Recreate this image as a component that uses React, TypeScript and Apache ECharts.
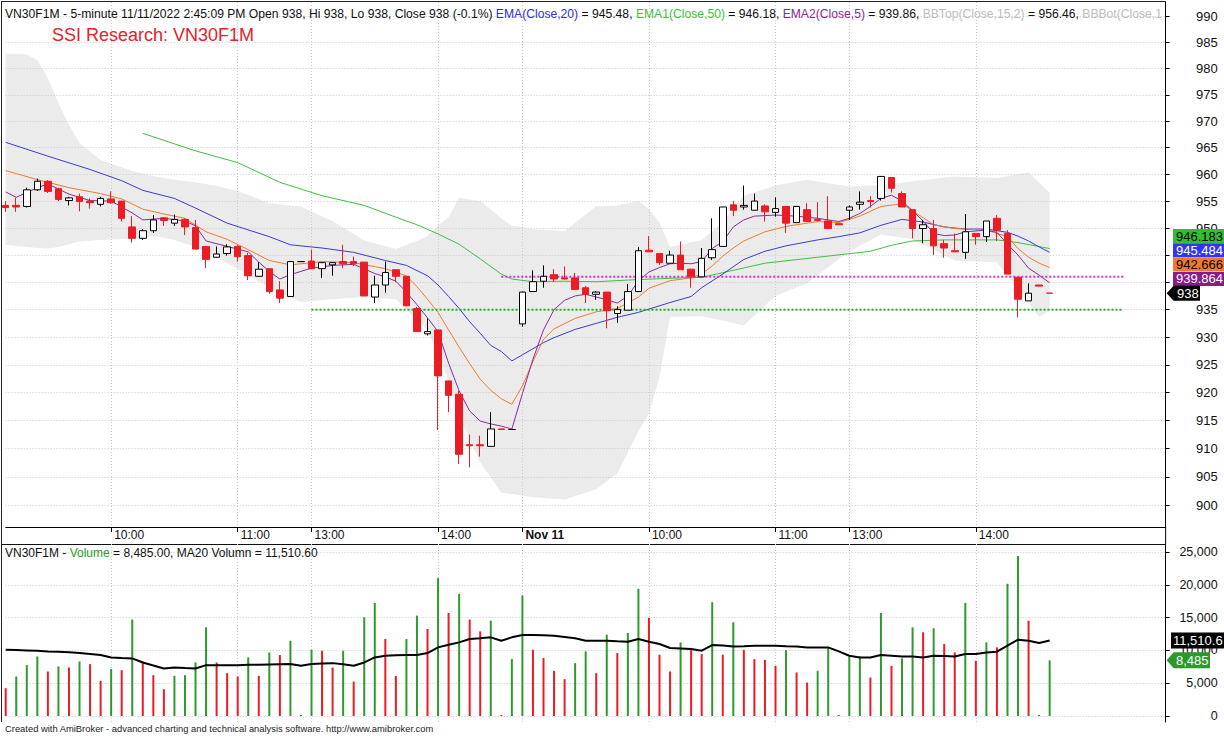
import React, { useEffect, useRef } from "react";
import * as echarts from "echarts";

const FONT = "'Liberation Sans', Arial, Helvetica, sans-serif";

// ---------- time axis ----------
const day1Sessions: [string, number, number, number, number][] = [
  ["11/10", 9, 10, 11, 30],
  ["11/10", 13, 0, 14, 30],
  ["11/10", 14, 45, 14, 45],
];
const day2Sessions: [string, number, number, number, number][] = [
  ["11/11", 9, 0, 11, 30],
  ["11/11", 13, 0, 14, 30],
  ["11/11", 14, 45, 14, 45],
];
const blankSlots = 11;
const tickIdx = [10, 22, 29, 41, 49, 61, 73, 80, 92];
const tickLabels = ["10:00", "11:00", "13:00", "14:00", "Nov 11", "10:00", "11:00", "13:00", "14:00"];

// ---------- OHLC ----------
const opens = [
  954.2, 954.2, 954.0, 957.1, 958.7, 957.3, 955.1, 955.8, 955.0, 954.4,
  955.4, 955.0, 950.2, 948.1, 949.5, 951.9, 950.9, 951.6, 950.1, 946.6,
  944.6, 945.3, 946.6, 944.9, 941.1, 942.5, 938.6, 937.4, 943.8, 943.9,
  942.5, 943.2, 943.8, 943.8, 943.7, 937.3, 939.5, 942.3, 941.1, 935.2,
  930.6, 931.3, 922.1, 919.7, 910.7, 910.7, 910.4, 913.5, 913.4, 932.4,
  938.3, 940.2, 941.4, 940.8, 940.8, 939.0, 937.8, 938.2, 934.3, 934.9,
  938.3, 945.9, 945.3, 943.5, 945.0, 942.4, 941.0, 944.5, 946.6, 954.3,
  953.9, 953.3, 954.1, 952.9, 954.0, 951.0, 953.4, 951.6, 951.3, 950.8,
  953.3, 954.4, 955.1, 955.5, 959.4, 956.4, 953.4, 949.9, 949.9, 947.1,
  945.8, 945.5, 949.0, 948.4, 951.8, 949.0, 940.9, 936.6, 939.5, 938.0,
];
const closes = [
  953.8, 953.9, 957.1, 958.7, 956.8, 955.3, 955.6, 954.9, 954.7, 955.5,
  954.7, 951.8, 948.1, 949.5, 951.5, 951.4, 951.6, 950.2, 946.1, 944.2,
  945.2, 946.5, 944.7, 941.2, 942.4, 938.3, 937.1, 943.8, 943.8, 942.5,
  943.6, 943.6, 943.4, 943.4, 937.5, 939.5, 941.8, 941.1, 935.7, 931.0,
  931.0, 923.0, 919.5, 909.0, 910.5, 910.5, 913.5, 913.4, 913.4, 938.2,
  940.1, 941.1, 940.6, 940.6, 938.7, 937.8, 938.2, 934.8, 935.0, 938.3,
  945.8, 945.6, 943.6, 945.0, 942.3, 941.0, 944.4, 946.0, 953.9, 953.3,
  954.2, 955.0, 953.0, 953.6, 950.9, 954.0, 951.2, 951.4, 949.9, 950.6,
  953.9, 954.8, 954.9, 959.6, 957.4, 953.9, 949.9, 950.6, 946.7, 946.3,
  945.6, 949.3, 948.4, 951.3, 949.6, 941.5, 936.9, 938.0, 939.3, 938.0,
];
const lows = [
  953.0, 953.0, 953.8, 956.9, 956.5, 955.0, 954.2, 953.1, 953.6, 954.0,
  954.5, 951.2, 947.3, 947.8, 949.1, 950.4, 950.4, 948.7, 946.1, 942.6,
  944.5, 944.9, 943.8, 940.4, 941.0, 937.9, 936.2, 937.4, 943.8, 942.5,
  940.8, 941.2, 942.6, 943.0, 937.5, 936.2, 938.1, 940.0, 935.7, 931.0,
  930.3, 913.3, 916.5, 907.3, 906.7, 908.6, 910.4, 913.4, 913.4, 931.9,
  938.3, 939.0, 940.1, 940.5, 938.7, 936.2, 936.8, 931.6, 932.6, 934.9,
  938.3, 945.6, 943.2, 943.5, 942.3, 939.0, 941.0, 944.1, 946.6, 952.2,
  953.4, 953.3, 951.2, 952.1, 949.1, 951.0, 951.2, 951.2, 949.9, 950.6,
  951.5, 953.4, 953.8, 955.1, 956.6, 953.9, 948.1, 947.2, 945.0, 944.5,
  945.6, 944.3, 946.9, 947.4, 947.6, 941.5, 933.6, 936.6, 939.3, 938.0,
];
const highs = [
  955.0, 955.6, 957.5, 959.2, 958.9, 957.5, 955.8, 956.4, 955.5, 955.8,
  956.8, 955.0, 952.2, 949.8, 952.4, 952.0, 952.5, 951.8, 951.5, 946.6,
  946.6, 947.0, 946.8, 945.4, 943.7, 942.5, 940.2, 943.9, 943.8, 946.0,
  943.7, 943.7, 946.9, 944.7, 943.7, 941.2, 943.8, 942.3, 941.1, 935.5,
  933.4, 931.3, 922.1, 920.3, 912.5, 912.3, 916.5, 913.5, 913.4, 938.3,
  942.2, 943.1, 942.4, 942.9, 941.7, 939.3, 938.4, 938.2, 935.6, 939.7,
  946.5, 948.5, 945.3, 945.8, 947.5, 942.5, 946.3, 951.8, 953.9, 955.0,
  957.9, 956.4, 954.4, 955.7, 954.0, 954.0, 954.6, 954.8, 955.9, 950.8,
  954.2, 956.8, 955.9, 959.7, 959.4, 956.8, 953.4, 951.5, 951.5, 947.8,
  949.0, 952.6, 949.0, 951.3, 952.4, 949.6, 940.9, 939.8, 939.5, 938.0,
];

const ema20Idx = [0, 4, 8, 11, 13, 16, 18, 21, 25, 27, 30, 33, 36, 38, 40, 41, 42, 43, 44, 45, 46, 47, 48, 49, 50, 51, 52, 54, 56, 58, 60, 63, 65, 66, 68, 70, 72, 74, 77, 79, 81, 83, 85, 87, 89, 91, 93, 95, 96, 97, 98, 99];
const ema20Val = [966.0, 963.4, 960.9, 958.8, 957.0, 955.5, 953.7, 950.9, 948.4, 946.9, 946.3, 945.5, 944.0, 943.1, 941.2, 939.5, 937.4, 935.2, 932.8, 930.7, 928.5, 927.4, 925.7, 926.8, 927.9, 929.0, 929.9, 931.4, 932.5, 933.6, 934.5, 936.3, 937.4, 939.0, 941.5, 944.2, 945.7, 946.7, 947.8, 948.4, 949.1, 950.5, 951.6, 951.1, 950.2, 949.8, 949.8, 949.2, 948.5, 947.6, 946.5, 945.5];

const ema50Idx = [13, 18, 22, 26, 30, 34, 37, 39, 41, 43, 45, 47, 48, 50, 53, 56, 60, 64, 66, 69, 72, 77, 82, 84, 86, 89, 94, 96, 99];
const ema50Val = [967.7, 964.4, 962.2, 958.5, 956.0, 954.2, 952.0, 950.6, 948.9, 947.0, 944.3, 941.5, 940.6, 940.1, 940.2, 940.1, 940.5, 940.8, 940.9, 942.2, 943.5, 944.6, 945.7, 946.8, 947.6, 947.8, 947.8, 947.3, 946.2];

const ema10Idx = [0, 3, 6, 9, 11, 13, 15, 17, 19, 21, 23, 25, 27, 30, 33, 36, 38, 39, 40, 41, 42, 43, 44, 45, 46, 47, 48, 49, 50, 51, 52, 54, 56, 58, 60, 61, 63, 65, 66, 67, 68, 69, 70, 72, 74, 77, 79, 81, 83, 85, 86, 88, 90, 93, 95, 96, 97, 98, 99];
const ema10Val = [960.7, 959.0, 957.5, 956.4, 955.4, 953.5, 952.6, 951.8, 949.3, 947.9, 946.0, 944.0, 943.2, 943.8, 943.6, 942.5, 941.2, 939.2, 936.9, 934.5, 931.3, 928.2, 925.2, 922.4, 920.4, 918.9, 917.9, 921.2, 925.6, 929.6, 931.5, 933.4, 934.6, 935.2, 937.3, 938.9, 940.3, 940.8, 941.5, 943.0, 944.8, 946.3, 947.6, 949.3, 950.3, 951.2, 951.0, 952.2, 954.0, 954.5, 953.2, 950.6, 949.9, 949.6, 948.4, 946.2, 944.6, 943.5, 942.7];

const ema5Idx = [0, 1, 3, 4, 6, 8, 10, 12, 13, 15, 17, 18, 19, 21, 23, 24, 25, 26, 27, 29, 31, 33, 35, 36, 37, 38, 39, 40, 41, 42, 43, 44, 45, 46, 47, 48, 49, 50, 51, 52, 53, 54, 55, 56, 57, 58, 59, 60, 61, 62, 63, 64, 65, 66, 67, 68, 69, 70, 71, 73, 75, 77, 79, 80, 81, 82, 83, 84, 85, 86, 87, 88, 89, 90, 91, 93, 94, 95, 96, 97, 98, 99];
const ema5Val = [956.7, 955.7, 957.5, 958.2, 956.3, 955.1, 955.0, 952.8, 951.5, 951.8, 951.3, 950.4, 947.6, 946.6, 945.6, 943.7, 942.0, 940.6, 941.4, 942.6, 943.1, 943.3, 941.6, 941.0, 940.2, 938.2, 935.9, 933.5, 931.0, 925.3, 920.3, 916.7, 914.9, 914.4, 914.0, 913.5, 919.8, 926.0, 931.3, 935.0, 936.7, 937.5, 937.8, 937.3, 936.8, 936.2, 937.5, 940.2, 941.9, 942.7, 943.4, 943.5, 943.4, 943.8, 946.2, 947.5, 950.2, 951.5, 952.2, 952.4, 952.2, 951.8, 951.2, 951.8, 952.7, 954.0, 955.5, 956.1, 955.0, 953.2, 951.3, 949.0, 948.6, 948.7, 949.3, 949.6, 949.2, 947.0, 945.0, 942.6, 941.3, 939.9];

const bandIdx = [0, 2, 3, 4, 5, 6, 7, 9, 12, 14, 16, 18, 20, 22, 25, 28, 31, 34, 37, 39, 40, 41, 42, 43, 44, 45, 46, 47, 48, 50, 53, 56, 58, 60, 61, 62, 63, 66, 68, 70, 73, 76, 80, 83, 86, 90, 94, 97, 98, 99];
const bandUpper = [982.9, 982.7, 981.6, 978.2, 973.4, 969.3, 965.9, 962.7, 960.6, 959.7, 959.0, 958.5, 957.8, 956.9, 954.6, 954.0, 951.3, 947.7, 946.1, 947.6, 948.5, 950.5, 952.0, 955.6, 955.3, 955.0, 953.5, 951.8, 950.4, 949.8, 949.4, 954.1, 954.2, 955.0, 953.5, 951.0, 946.5, 947.8, 951.0, 956.0, 957.9, 959.0, 957.7, 958.0, 958.7, 959.6, 959.3, 960.4, 958.4, 956.5];
const bandLower = [946.9, 946.5, 946.3, 946.2, 946.5, 947.0, 947.5, 947.8, 948.0, 948.5, 947.8, 946.5, 944.5, 942.5, 939.0, 936.4, 936.9, 937.3, 936.9, 933.2, 931.3, 926.6, 922.2, 915.9, 911.7, 907.6, 904.9, 902.2, 902.0, 901.4, 901.0, 902.8, 905.6, 913.1, 916.2, 922.8, 933.7, 933.8, 933.0, 932.1, 937.5, 939.8, 945.7, 948.8, 947.9, 944.0, 943.7, 936.3, 933.6, 934.9];

const supportLevel = 935;
const supportRange = [29, 106];
const resistLevel = 941;
const resistRange = [47, 106];

// ---------- volume ----------
const volumes = [
  4235, 6020, 7755, 9080, 6785, 7550, 7400, 8315, 7910, 5360,
  7140, 6990, 14700, 8315, 6225, 4080, 6120, 6225, 8160, 13520,
  8160, 6530, 6020, 8930, 6120, 9690, 9290, 11480, 150, 10100,
  9950, 7400, 9950, 5255, 15050, 17245, 11735, 6120, 11735, 15300,
  13265, 21020, 15710, 18620, 14700, 12910, 14540, 150, 8670, 18370,
  10100, 8830, 6890, 5610, 8060, 9850, 6530, 12400, 9590, 12650,
  19390, 14950, 9340, 6790, 11220, 10200, 9440, 17350, 9340, 14290,
  10100, 8670, 8570, 7650, 10050, 6630, 5100, 6890, 10460, 150,
  9080, 9080, 5870, 15710, 7650, 8780, 13520, 12760, 13370, 10970,
  9690, 17245, 8420, 11220, 10460, 20150, 24390, 14540, 150, 8485,
];
const volDir = (
  "rgggrgrgrr" + "grgrrrgggg" + "rrrgrgrgrg" + "rrgrggrrgg" + "rgrgrrgrgg" +
  "rrrrggrgrg" + "grrrgrrgrg" + "rrrrgrrggr" + "ggrgrggrgr" + "rgrgrggrrg"
).split("");
const volMA20 = [
  10100, 10050, 10000, 9950, 9850, 9800, 9700, 9590, 9450, 9290,
  8930, 8850, 8780, 8160, 7700, 7245, 7400, 7300, 7245, 7755,
  7755, 7755, 7755, 7800, 7800, 7850, 7900, 7910, 7650, 7910,
  8000, 8060, 7900, 7650, 8160, 8930, 9180, 9250, 9290, 9290,
  9590, 10460, 10850, 11220, 11735, 11840, 11990, 11480, 11990, 12350,
  12350, 12300, 12245, 12050, 11840, 11480, 11480, 11480, 11400, 11330,
  11735, 11330, 10970, 10360, 10300, 10200, 9950, 10820, 10750, 10610,
  10650, 10700, 10710, 10710, 10650, 10610, 10460, 10460, 10460, 9850,
  9180, 8930, 8930, 9290, 9200, 9080, 9080, 8930, 9180, 9150,
  9080, 9440, 9440, 9690, 9800, 10710, 11630, 11480, 11120, 11510.6,
];

const priceTicks = [900, 905, 910, 915, 920, 925, 930, 935, 940, 945, 950, 955, 960, 965, 970, 975, 980, 985, 990];
// 940 and 945 are hidden behind the value tags in the original
const priceLabels = [900, 905, 910, 915, 920, 925, 930, 935, 950, 955, 960, 965, 970, 975, 980, 985, 990];
const volTicks = [0, 5000, 10000, 15000, 20000, 25000];

const lastLabels = [
  { name: "EMA1", value: 946.183, bg: "#2fc02f", fg: "#000000" },
  { name: "EMA", value: 945.484, bg: "#3434f4", fg: "#ffffff" },
  { name: "EMA10", value: 942.666, bg: "#f3782a", fg: "#000000" },
  { name: "EMA2", value: 939.864, bg: "#8a1a8a", fg: "#ffffff" },
];
const lastClose = 938;
const lastVolume = 8485;
const lastVolMA = 11510.6;

// colors
const RED = "#ec1c24";
const GREEN_V = "#2e9a2e";
const GRID_C = "#c9c9c9";

function buildCategories(): string[] {
  const out: string[] = [];
  const pad = (n: number) => (n < 10 ? "0" + n : "" + n);
  for (const [d, h0, m0, h1, m1] of [...day1Sessions, ...day2Sessions]) {
    let t = h0 * 60 + m0;
    const end = h1 * 60 + m1;
    while (t <= end) {
      out.push(`${d} ${pad(Math.floor(t / 60))}:${pad(t % 60)}`);
      t += 5;
    }
  }
  for (let k = 0; k < blankSlots; k++) out.push(`blank${k}`);
  return out;
}

export default function App() {
  const ref = useRef<HTMLDivElement>(null);

  useEffect(() => {
    const el = ref.current!;
    const chart = echarts.init(el, null, { renderer: "svg" });
    const cats = buildCategories();
    const tickSet = new Set(tickIdx);
    const showTick = (i: number) => tickSet.has(i);
    const pairs = (idx: number[], val: number[]) => idx.map((x, k) => [x, val[k]]);
    const gridLeft = 5.7;
    const gridWidth = 110 * 10.545;

    const dotted = { color: GRID_C, type: [1, 2] as any, width: 1 };

    const option: any = {
      animation: false,
      backgroundColor: "#ffffff",
      textStyle: { fontFamily: FONT },
      grid: [
        { left: gridLeft, top: 2, width: gridWidth, height: 525 },
        { left: gridLeft, top: 544, width: gridWidth, height: 178 },
      ],
      xAxis: [
        {
          type: "category",
          gridIndex: 0,
          data: cats,
          boundaryGap: false,
          z: 2,
          axisLine: { show: true, lineStyle: { color: "#000", width: 1 } },
          axisTick: { show: true, interval: showTick, length: 5, lineStyle: { color: "#000" } },
          axisLabel: {
            show: true,
            interval: showTick,
            align: "left",
            margin: 2,
            padding: [0, 0, 0, 3],
            formatter: (_v: string, i: number) => {
              const k = tickIdx.indexOf(i);
              if (k < 0) return "";
              return k === 4 ? `{b|${tickLabels[k]}}` : `{n|${tickLabels[k]}}`;
            },
            rich: {
              n: { fontSize: 12, color: "#111", fontFamily: FONT },
              b: { fontSize: 12, color: "#111", fontWeight: "bold", fontFamily: FONT },
            },
          },
          splitLine: { show: true, interval: showTick, lineStyle: dotted },
        },
        {
          type: "category",
          gridIndex: 1,
          data: cats,
          boundaryGap: false,
          z: 2,
          axisLine: { show: false },
          axisTick: { show: false },
          axisLabel: { show: false },
          splitLine: { show: true, interval: showTick, lineStyle: dotted },
        },
      ],
      yAxis: [
        {
          type: "log",
          logBase: 10,
          gridIndex: 0,
          position: "right",
          min: 896.2,
          max: 992.8,
          z: 2,
          axisLine: { show: true, lineStyle: { color: "#000" } },
          axisTick: { show: true, customValues: priceTicks, length: 4, lineStyle: { color: "#000" } },
          axisLabel: {
            customValues: priceLabels,
            align: "right",
            margin: 52,
            fontSize: 13,
            color: "#111",
            fontFamily: FONT,
            formatter: (v: number) => String(Math.round(v)),
          },
          splitLine: { show: true, lineStyle: dotted },
          minorTick: { show: false },
          minorSplitLine: { show: false },
        },
        {
          type: "value",
          gridIndex: 1,
          position: "right",
          min: -915,
          max: 26220,
          z: 2,
          axisLine: { show: true, lineStyle: { color: "#000" } },
          axisTick: { show: true, customValues: volTicks, length: 4, lineStyle: { color: "#000" } },
          axisLabel: {
            customValues: volTicks,
            align: "right",
            margin: 52,
            fontSize: 12.5,
            color: "#111",
            fontFamily: FONT,
            formatter: (v: number) => v.toLocaleString("en-US"),
          },
          splitLine: { show: true, lineStyle: dotted },
        },
      ],
      series: [
        {
          type: "custom",
          name: "BB",
          xAxisIndex: 0,
          yAxisIndex: 0,
          z: 1,
          silent: true,
          clip: false,
          data: bandIdx.map((x, k) => [x, bandUpper[k], bandLower[k]]),
          encode: { x: 0, y: [1, 2] },
          renderItem: (params: any, api: any) => {
            if (params.dataIndex !== 0) return null;
            const pts: number[][] = [];
            for (let k = 0; k < bandIdx.length; k++) pts.push(api.coord([bandIdx[k], bandUpper[k]]));
            for (let k = bandIdx.length - 1; k >= 0; k--) pts.push(api.coord([bandIdx[k], bandLower[k]]));
            return { type: "polygon", shape: { points: pts }, style: { fill: "#ebebeb" } };
          },
        },
        {
          type: "line", name: "EMA50", xAxisIndex: 0, yAxisIndex: 0, z: 3, silent: true,
          showSymbol: false, data: pairs(ema50Idx, ema50Val),
          lineStyle: { color: "#3fbf3f", width: 1 },
        },
        {
          type: "line", name: "EMA20", xAxisIndex: 0, yAxisIndex: 0, z: 3, silent: true,
          showSymbol: false, data: pairs(ema20Idx, ema20Val),
          lineStyle: { color: "#3a3ad0", width: 1 },
        },
        {
          type: "line", name: "EMA10", xAxisIndex: 0, yAxisIndex: 0, z: 3, silent: true,
          showSymbol: false, data: pairs(ema10Idx, ema10Val),
          lineStyle: { color: "#f07a30", width: 1 },
        },
        {
          type: "line", name: "EMA5", xAxisIndex: 0, yAxisIndex: 0, z: 3, silent: true,
          showSymbol: false, data: pairs(ema5Idx, ema5Val),
          lineStyle: { color: "#8a2a9a", width: 1 },
        },
        {
          type: "line", name: "support", xAxisIndex: 0, yAxisIndex: 0, z: 3, silent: true,
          showSymbol: false,
          data: [[supportRange[0], supportLevel], [supportRange[1], supportLevel]],
          lineStyle: { color: "#22b022", width: 2, type: [2, 2] },
        },
        {
          type: "line", name: "resist", xAxisIndex: 0, yAxisIndex: 0, z: 3, silent: true,
          showSymbol: false,
          data: [[resistRange[0], resistLevel], [resistRange[1], resistLevel]],
          lineStyle: { color: "#e02ae0", width: 2, type: [2, 2] },
        },
        {
          type: "candlestick",
          name: "VN30F1M",
          xAxisIndex: 0,
          yAxisIndex: 0,
          z: 4,
          clip: false,
          barWidth: 7,
          data: opens.map((o, i) => [o, closes[i], lows[i], highs[i]]),
          itemStyle: {
            color: "#ffffff",
            color0: RED,
            borderColor: "#000000",
            borderColor0: RED,
            borderWidth: 1,
          },
        },
        {
          type: "bar",
          name: "Volume",
          xAxisIndex: 1,
          yAxisIndex: 1,
          z: 3,
          barWidth: 2,
          data: volumes.map((v, i) => ({
            value: v,
            itemStyle: { color: volDir[i] === "g" ? GREEN_V : RED },
          })),
        },
        {
          type: "line",
          name: "MA20",
          xAxisIndex: 1,
          yAxisIndex: 1,
          z: 4,
          silent: true,
          showSymbol: false,
          data: volMA20,
          lineStyle: { color: "#000", width: 2 },
        },
      ],
    };

    chart.setOption(option);

    const py = (v: number) => chart.convertToPixel({ yAxisIndex: 0 } as any, v) as unknown as number;
    const vy = (v: number) => chart.convertToPixel({ yAxisIndex: 1 } as any, v) as unknown as number;
    const axisX = gridLeft + gridWidth;

    const g: any[] = [];
    // frame lines
    g.push({ type: "line", shape: { x1: 1.5, y1: 1, x2: 1.5, y2: 722 }, style: { stroke: "#222", lineWidth: 1 } });
    g.push({ type: "line", shape: { x1: 1, y1: 1.5, x2: axisX, y2: 1.5 }, style: { stroke: "#222", lineWidth: 1 } });
    g.push({ type: "line", shape: { x1: 1, y1: 544.5, x2: axisX, y2: 544.5 }, style: { stroke: "#111", lineWidth: 1 } });
    g.push({ type: "line", shape: { x1: axisX, y1: 527, x2: axisX, y2: 544 }, style: { stroke: "#000", lineWidth: 1 } });

    // header
    g.push({
      type: "text",
      x: 5,
      y: 8,
      z: 10,
      style: {
        text:
          `{k|VN30F1M - 5-minute 11/11/2022 2:45:09 PM Open ${opens[99]}, Hi ${highs[99]}, Lo ${lows[99]}, Close ${closes[99]} (-0.1%) }` +
          `{b|EMA(Close,20)}{k| = 945.48, }{g|EMA1(Close,50)}{k| = 946.18, }{p|EMA2(Close,5)}{k| = 939.86, }` +
          `{l|BBTop(Close,15,2)}{k| = 956.46, }{l|BBBot(Close,1}`,
        fontSize: 12.15,
        fontFamily: FONT,
        fill: "#111",
        rich: {
          k: { fill: "#111", fontSize: 12.15, fontFamily: FONT },
          b: { fill: "#3030d8", fontSize: 12.15, fontFamily: FONT },
          g: { fill: "#3cbf3c", fontSize: 12.15, fontFamily: FONT },
          p: { fill: "#8a2a8a", fontSize: 12.15, fontFamily: FONT },
          l: { fill: "#bdbdbd", fontSize: 12.15, fontFamily: FONT },
        },
      },
    });
    g.push({
      type: "text",
      x: 52,
      y: 26,
      z: 10,
      style: { text: "SSI Research: VN30F1M", fontSize: 18, fontFamily: FONT, fill: "#e8202a" },
    });
    g.push({
      type: "text",
      x: 5,
      y: 547,
      z: 10,
      style: {
        text: `{k|VN30F1M - }{g|Volume}{k| = ${lastVolume.toLocaleString("en-US")}.00, MA20 Volumn = ${lastVolMA.toLocaleString("en-US", { minimumFractionDigits: 2 })}}`,
        fontSize: 12,
        fontFamily: FONT,
        fill: "#111",
        rich: {
          k: { fill: "#111", fontSize: 12, fontFamily: FONT },
          g: { fill: "#2e9a2e", fontSize: 12, fontFamily: FONT },
        },
      },
    });
    g.push({
      type: "text",
      x: 5,
      y: 724,
      z: 10,
      style: {
        text: "Created with AmiBroker - advanced charting and technical analysis software. http://www.amibroker.com",
        fontSize: 9.4,
        fontFamily: FONT,
        fill: "#222",
      },
    });

    // right-side value tags, stacked upward from the last close
    const gap = 14.3;
    const closeY = py(lastClose);
    let prevY = closeY;
    const sorted = [...lastLabels].sort((a, b) => a.value - b.value);
    const placed = sorted.map((lab) => {
      const y = Math.min(py(lab.value), prevY - gap);
      prevY = y;
      return { ...lab, y };
    });
    for (const p of placed) {
      g.push({ type: "rect", z: 10, shape: { x: 1173, y: p.y - 7, width: 51, height: 14 }, style: { fill: p.bg } });
      g.push({
        type: "text", z: 11, x: 1176, y: p.y,
        style: { text: p.value.toFixed(3), fontSize: 13, fontFamily: FONT, fill: p.fg, verticalAlign: "middle" },
      });
    }
    g.push({
      type: "polygon", z: 10,
      shape: { points: [[axisX + 1, closeY], [axisX + 8, closeY - 7.5], [1200, closeY - 7.5], [1200, closeY + 7.5], [axisX + 8, closeY + 7.5]] },
      style: { fill: "#000" },
    });
    g.push({
      type: "text", z: 11, x: 1177, y: closeY,
      style: { text: String(lastClose), fontSize: 13, fontFamily: FONT, fill: "#fff", verticalAlign: "middle" },
    });

    const maY = vy(lastVolMA);
    g.push({ type: "rect", z: 10, shape: { x: 1171, y: maY - 8, width: 53, height: 16 }, style: { fill: "#000" } });
    g.push({
      type: "text", z: 11, x: 1173, y: maY,
      style: { text: lastVolMA.toLocaleString("en-US", { minimumFractionDigits: 1 }), fontSize: 13, fontFamily: FONT, fill: "#fff", verticalAlign: "middle" },
    });
    const vY = vy(lastVolume);
    g.push({
      type: "polygon", z: 10,
      shape: { points: [[axisX + 1, vY], [axisX + 8, vY - 8], [1210, vY - 8], [1210, vY + 8], [axisX + 8, vY + 8]] },
      style: { fill: "#2a9a2a" },
    });
    g.push({
      type: "text", z: 11, x: 1176, y: vY,
      style: { text: lastVolume.toLocaleString("en-US"), fontSize: 13, fontFamily: FONT, fill: "#fff", verticalAlign: "middle" },
    });

    chart.setOption({ graphic: g });

    return () => chart.dispose();
  }, []);

  return (
    <div
      ref={ref}
      style={{ position: "fixed", left: 0, top: 0, width: 1224, height: 736, background: "#fff" }}
    />
  );
}
